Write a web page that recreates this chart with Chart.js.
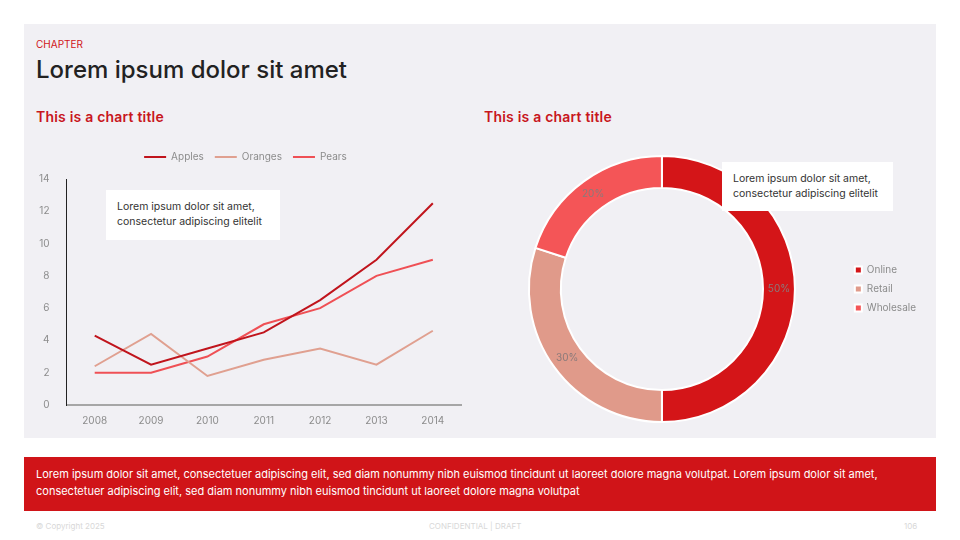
<!DOCTYPE html>
<html>
<head>
<meta charset="utf-8">
<script src="https://cdn.jsdelivr.net/npm/chart.js@4.4.0/dist/chart.umd.min.js"></script>
<style>
  body { margin: 0; width: 960px; height: 540px; background: #fff; font-family: Inter, "Noto Sans", sans-serif; position: relative; overflow: hidden; }
  .panel { position: absolute; left: 24px; top: 24px; width: 912px; height: 414px; background: #f1f0f4; }
  .abs { position: absolute; }
  .chapter { left: 36px; top: 38px; font-size: 10px; color: #d01418; }
  .title { left: 36px; top: 55px; font-size: 24px; font-weight: 500; color: #222; }
  .ctitle { top: 108px; font-size: 14px; font-weight: 600; color: #c8161c; letter-spacing: 0.2px; }
  .note { background: #fff; font-size: 10.5px; color: #333; line-height: 15px; padding: 9px 11px; box-sizing: border-box; }
  .band { left: 24px; top: 457px; width: 912px; height: 54px; background: #d01418; color: #fff; font-size: 11px; line-height: 17px; padding: 9px 12px; box-sizing: border-box; }
  .foot { top: 521px; font-size: 8px; color: #d8d8d8; }
</style>
</head>
<body>
<div class="panel"></div>
<div class="abs chapter">CHAPTER</div>
<div class="abs title">Lorem ipsum dolor sit amet</div>
<div class="abs ctitle" style="left:36px">This is a chart title</div>
<div class="abs ctitle" style="left:484px">This is a chart title</div>

<div class="abs" style="left:30px;top:141px;width:440px;height:288px"><canvas id="lineChart"></canvas></div>
<div class="abs" style="left:478px;top:155px;width:448px;height:268px"><canvas id="pieChart"></canvas></div>

<div class="abs note" style="left:106px;top:190px;width:174px;height:50px">Lorem ipsum dolor sit amet, consectetur adipiscing elitelit</div>
<div class="abs note" style="left:722px;top:162px;width:171px;height:49px">Lorem ipsum dolor sit amet, consectetur adipiscing elitelit</div>

<div class="abs band">Lorem ipsum dolor sit amet, consectetuer adipiscing elit, sed diam nonummy nibh euismod tincidunt ut laoreet dolore magna volutpat. Lorem ipsum dolor sit amet, consectetuer adipiscing elit, sed diam nonummy nibh euismod tincidunt ut laoreet dolore magna volutpat</div>
<div class="abs foot" style="left:36px">© Copyright 2025</div>
<div class="abs foot" style="left:429px">CONFIDENTIAL | DRAFT</div>
<div class="abs foot" style="left:904px">106</div>

<script>
let years = ['2008', '2009', '2010', '2011', '2012', '2013', '2014'];
let apples = [4.3, 2.5, 3.5, 4.5, 6.5, 9, 12.5];
let oranges = [2.4, 4.4, 1.8, 2.8, 3.5, 2.5, 4.6];
let pears = [2, 2, 3, 5, 6, 8, 9];

let channels = ['Online', 'Retail', 'Wholesale'];
let shares = [50, 30, 20];

let tickGray = '#8c8c8c';
Chart.defaults.font.family = 'Inter, "Noto Sans", sans-serif';

// extra room under the legend
let legendGap = {
    id: 'legendGap',
    beforeInit(chart) {
        let fit = chart.legend.fit;
        chart.legend.fit = function () {
            fit.bind(chart.legend)();
            this.height += 7;
        };
    }
};

new Chart(document.getElementById('lineChart'), {
    type: 'line',
    data: {
        labels: years,
        datasets: [
            { label: 'Apples', data: apples, borderColor: '#c0141c', backgroundColor: '#c0141c', borderWidth: 2 },
            { label: 'Oranges', data: oranges, borderColor: '#e0a090', backgroundColor: '#e0a090', borderWidth: 2 },
            { label: 'Pears', data: pears, borderColor: '#ef5055', backgroundColor: '#ef5055', borderWidth: 2 }
        ]
    },
    options: {
        animation: false,
        responsive: true,
        maintainAspectRatio: false,
        elements: { point: { radius: 0 }, line: { tension: 0 } },
        layout: { padding: { left: 0, right: 9, top: 0, bottom: 0 } },
        plugins: {
            tooltip: { enabled: false },
            legend: {
                labels: {
                    usePointStyle: true,
                    pointStyle: 'line',
                    pointStyleWidth: 22,
                    boxHeight: 6,
                    padding: 11,
                    color: tickGray,
                    font: { size: 10 }
                }
            }
        },
        scales: {
            x: {
                offset: true,
                grid: { display: false },
                border: { color: '#a6a6a6', width: 2 },
                ticks: { color: tickGray, font: { size: 10 }, padding: 2 }
            },
            y: {
                min: 0,
                max: 14,
                ticks: { stepSize: 2, color: tickGray, font: { size: 10 }, padding: 9 },
                grid: { display: false },
                border: { color: '#222', width: 1 }
            }
        }
    },
    plugins: [legendGap]
});

let sliceLabels = {
    id: 'sliceLabels',
    afterDatasetsDraw(chart) {
        let ctx = chart.ctx;
        let meta = chart.getDatasetMeta(0);
        ctx.save();
        ctx.fillStyle = '#8a7a7a';
        ctx.font = '10px Inter, "Noto Sans", sans-serif';
        ctx.textAlign = 'center';
        ctx.textBaseline = 'middle';
        meta.data.forEach((arc, i) => {
            let p = arc.tooltipPosition();
            ctx.fillText(shares[i] + '%', p.x, p.y);
        });
        ctx.restore();
    }
};

new Chart(document.getElementById('pieChart'), {
    type: 'doughnut',
    data: {
        labels: channels,
        datasets: [{
            data: shares,
            backgroundColor: ['#d41518', '#e09a8a', '#f45557'],
            borderColor: '#ffffff',
            borderWidth: 2
        }]
    },
    options: {
        animation: false,
        responsive: true,
        maintainAspectRatio: false,
        cutout: '76%',
        plugins: {
            tooltip: { enabled: false },
            legend: {
                position: 'right',
                labels: {
                    boxWidth: 7,
                    boxHeight: 7,
                    padding: 9,
                    color: tickGray,
                    font: { size: 10 }
                }
            }
        }
    },
    plugins: [sliceLabels]
});
</script>
</body>
</html>
